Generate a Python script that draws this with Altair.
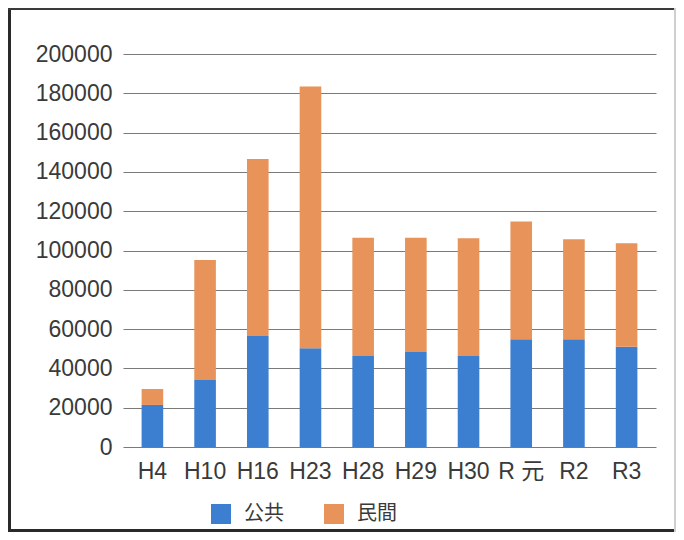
import altair as alt
import pandas as pd

categories = ["H4", "H10", "H16", "H23", "H28", "H29", "H30", "R 元", "R2", "R3"]
public = [21400, 34100, 56500, 50300, 46300, 48400, 46300, 54800, 54800, 51000]
private = [8100, 61100, 90100, 133200, 60200, 58100, 59900, 59900, 50900, 52700]
series = ["公共", "民間"]
colors = ["#3c7ed0", "#e8935a"]
y_ticks = list(range(0, 200001, 20000))

rows = []
for c, p, q in zip(categories, public, private):
    rows.append({"cat": c, "series": series[0], "value": p, "ord": 0})
    rows.append({"cat": c, "series": series[1], "value": q, "ord": 1})
df = pd.DataFrame(rows)

W, H = 533, 393
PL, PT, PR, PB = 115, 46, 20, 85

LATIN = "Liberation Sans, Noto Sans CJK JP"

bars = alt.Chart(df).mark_bar().encode(
    x=alt.X("cat:N", sort=categories, title=None,
            scale=alt.Scale(paddingInner=0.59, paddingOuter=0.353),
            axis=alt.Axis(labelAngle=0, ticks=False, domain=False, labelPadding=13,
                          labelFontSize=23, labelColor="#3a3a3a", labelFont=LATIN,
                          labelFontWeight="normal")),
    y=alt.Y("value:Q", stack="zero", title=None,
            scale=alt.Scale(domain=[0, 200000], nice=False),
            axis=alt.Axis(values=y_ticks, format="d", ticks=False, domain=False,
                          labelPadding=11, labelFontSize=23, labelColor="#3a3a3a",
                          labelFont=LATIN, grid=True, gridColor="#7a7a7a",
                          gridWidth=1)),
    color=alt.Color("series:N", sort=series, title=None,
                    scale=alt.Scale(domain=series, range=colors),
                    legend=alt.Legend(orient="none", legendX=88, legendY=450,
                                      direction="horizontal", symbolType="square",
                                      symbolSize=400, symbolStrokeWidth=0,
                                      symbolOpacity=1, labelFontSize=20,
                                      labelFont="Noto Sans CJK JP",
                                      labelColor="#3a3a3a", labelOffset=13,
                                      columnPadding=40, padding=0)),
    order=alt.Order("ord:Q"),
)

frame_data = alt.Data(values=[{"k": 1}])
left = alt.Chart(frame_data).mark_rule(color="#2a2a2a", strokeWidth=3).encode(
    x=alt.value(-PL + 1.5), y=alt.value(-PT), y2=alt.value(H + PB))
top = alt.Chart(frame_data).mark_rule(color="#3a3a3a", strokeWidth=2).encode(
    x=alt.value(-PL), x2=alt.value(W + PR), y=alt.value(-PT + 1))
bottom = alt.Chart(frame_data).mark_rule(color="#2a2a2a", strokeWidth=3).encode(
    x=alt.value(-PL), x2=alt.value(W + PR), y=alt.value(H + PB - 1.5))
right = alt.Chart(frame_data).mark_rule(color="#cfcfcf", strokeWidth=2).encode(
    x=alt.value(W + PR - 1), y=alt.value(-PT), y2=alt.value(H + PB))

chart = alt.layer(bars, left, top, bottom, right).properties(
    width=W, height=H,
    padding={"left": PL, "top": PT, "right": PR, "bottom": PB},
    autosize=alt.AutoSizeParams(type="none"),
    background="white",
).configure_view(stroke=None)

chart.save("out.html", embed_options={"renderer": "svg", "actions": False})
